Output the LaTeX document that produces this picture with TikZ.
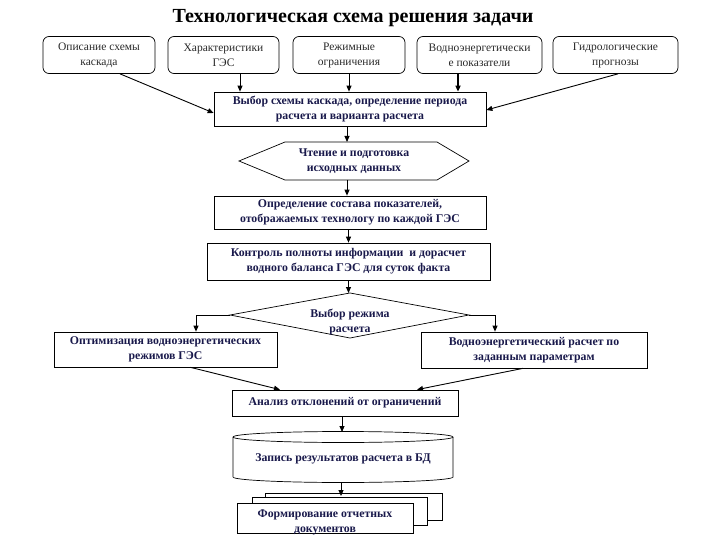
\documentclass[tikz,border=0pt]{standalone}
\usepackage{fontspec}
\setmainfont{Liberation Serif}
\usetikzlibrary{arrows.meta,calc}
\definecolor{txtnavy}{RGB}{25,25,75}
\definecolor{txtgray}{RGB}{40,40,40}
\begin{document}
\begin{tikzpicture}[x=1pt,y=-1pt,
  line width=0.7pt,
  topbox/.style={draw, rounded corners=6pt, minimum height=37pt, align=center, inner sep=1pt,
    font=\fontsize{11.5}{15}\selectfont, text=txtgray},
  procbox/.style={draw, align=center, inner sep=1pt,
    font=\fontsize{11.8}{15}\selectfont\bfseries, text=txtnavy},
  plaintext/.style={align=center, inner sep=1pt,
    font=\fontsize{11.8}{15}\selectfont\bfseries, text=txtnavy},
  arr/.style={-{Triangle[length=6pt,width=5pt]}, line width=0.9pt},
  thickarr/.style={-{Triangle[length=6pt,width=5pt]}, line width=1.6pt}]
\useasboundingbox (0,0) rectangle (720,540);

% title
\node[font=\fontsize{20}{22}\selectfont\bfseries] (title) at (353,18) {Технологическая схема решения задачи};

% top boxes
\node[topbox, minimum width=112pt] (b1) at (99,55) {Описание схемы\\каскада};
\node[topbox, minimum width=111pt] (b2) at (223.5,55) {Характеристики\\ГЭС};
\node[topbox, minimum width=112pt] (b3) at (349,55) {Режимные\\ограничения};
\node[topbox, minimum width=125pt] (b4) at (479.5,55) {Водноэнергетически\\е показатели};
\node[topbox, minimum width=125pt] (b5) at (615.5,55) {Гидрологические\\прогнозы};

% main box
\node[procbox, minimum width=272pt, minimum height=34pt] (main) at (350,109)
  {Выбор схемы каскада, определение периода\\расчета и варианта расчета};

\draw[arr] ([xshift=21pt]b1.south) -- ([yshift=-4pt]main.west);
\draw[arr] ([xshift=16.5pt]b2.south) -- ([xshift=16.5pt]b2.south |- main.north);
\draw[arr] (b3.south) -- (b3.south |- main.north);
\draw[thickarr] ([xshift=-21.5pt]b4.south) -- ([xshift=-21.5pt]b4.south |- main.north);
\draw[arr] ([xshift=2.5pt]b5.south) -- ([yshift=-1pt]main.east);

% hexagon
\node[plaintext] (hex) at (354,161) {Чтение и подготовка\\исходных данных};
\draw ([xshift=-115pt]hex.center) -- ([xshift=-69pt,yshift=19pt]hex.center)
  -- ([xshift=83pt,yshift=19pt]hex.center) -- ([xshift=115pt]hex.center)
  -- ([xshift=83pt,yshift=-19pt]hex.center) -- ([xshift=-69pt,yshift=-19pt]hex.center) -- cycle;
\coordinate (hexN) at ([yshift=19pt]hex.center -| 347,0);
\coordinate (hexS) at ([yshift=-19pt]hex.center -| 347,0);
\draw[arr] (main.south -| hexN) -- (hexN);

% definition box
\node[procbox, minimum width=272pt, minimum height=33pt] (def) at (350,212.5)
  {Определение состава показателей,\\отображаемых технологу по каждой ГЭС};
\draw[arr] (hexS) -- (hexS |- def.north);

% control box
\node[procbox, minimum width=283pt, minimum height=37pt] (ctrl) at (348.5,261.5)
  {Контроль полноты информации \ и дорасчет\\водного баланса ГЭС для суток факта};
\draw[arr] ([xshift=-1.5pt]def.south) -- ([xshift=-1.5pt]def.south |- ctrl.north);

% decision diamond
\coordinate (dT) at (350,293);
\coordinate (dB) at (350,338);
\coordinate (dL) at (230,315);
\coordinate (dR) at (469,315);
\draw (dT) -- (dR) -- (dB) -- (dL) -- cycle;
\node[plaintext] (dia) at (350,322) {Выбор режима\\расчета};
\draw[arr] (ctrl.south) -- (ctrl.south |- dT);

% left / right boxes
\node[procbox, minimum width=223pt, minimum height=35pt] (left) at (165.5,349.5)
  {Оптимизация водноэнергетических\\режимов ГЭС};
\node[procbox, minimum width=226pt, minimum height=36pt] (right) at (534,350)
  {Водноэнергетический расчет по\\заданным параметрам};
\draw[arr] (dL) -- (196,315) -- (196,0 |- left.north);
\draw[arr] (dR) -- (495,315) -- (495,0 |- right.north);

% analysis box
\node[procbox, minimum width=226pt, minimum height=26pt] (anal) at (345,403)
  {Анализ отклонений от ограничений};
\draw[arr] ([xshift=25pt]left.south) -- ([xshift=-65pt]anal.north);
\draw[arr] ([xshift=-11pt]right.south) -- ([xshift=72pt]anal.north);

% database cylinder
\draw[fill=white] (233,437) -- (233,477) arc[start angle=180, end angle=360, x radius=110pt, y radius=5.5pt]
  -- (453,437) arc[start angle=0, end angle=180, x radius=110pt, y radius=5.5pt] -- cycle;
\draw (233,437) arc[start angle=180, end angle=360, x radius=110pt, y radius=5.5pt];
\node[plaintext] (cyl) at (343,459) {Запись результатов расчета в БД};
\draw[arr] ([xshift=-3pt]anal.south) -- (342,432);

% documents stack
\draw[fill=white] (265,493) rectangle (442,520);
\draw[fill=white] (252,497) rectangle (427,525);
\draw[fill=white] (237,503) rectangle (413,533);
\node[plaintext] (doc) at (325,522.5) {Формирование отчетных\\документов};
\draw[arr] (341,482) -- (341,496);
\end{tikzpicture}
\end{document}
